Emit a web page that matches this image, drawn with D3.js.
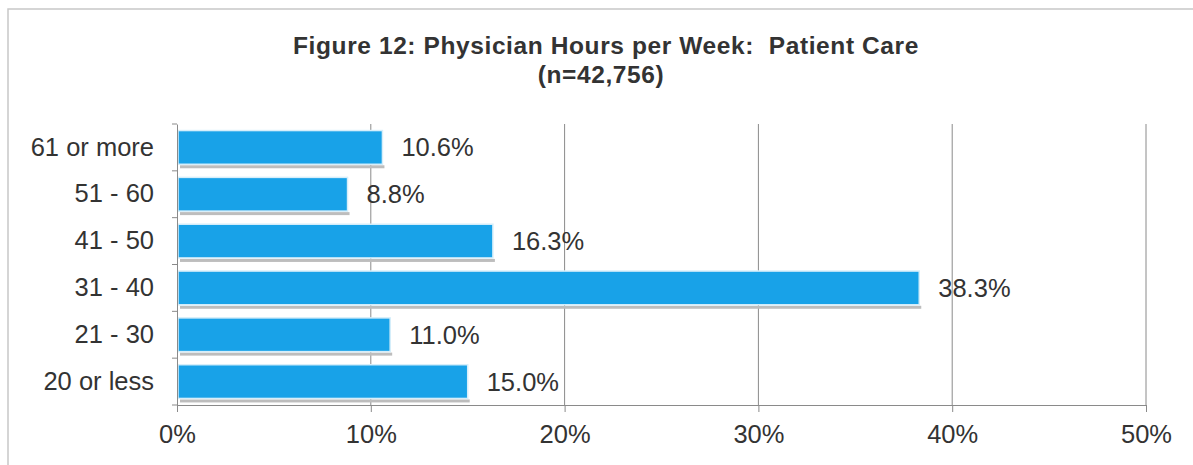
<!DOCTYPE html>
<html>
<head>
<meta charset="utf-8">
<script src="https://cdn.jsdelivr.net/npm/d3@7"></script>
<style>
  body { margin: 0; background: #fff; }
  svg { display: block; font-family: 'Liberation Sans', Arial, sans-serif; }
</style>
</head>
<body>
<div id="chart"></div>
<script>
const categories = ['61 or more', '51 - 60', '41 - 50', '31 - 40', '21 - 30', '20 or less']
const shares = [10.6, 8.8, 16.3, 38.3, 11.0, 15.0]
const xTicks = [0, 10, 20, 30, 40, 50]
const titleLines = ['Figure 12: Physician Hours per Week:  Patient Care', '(n=42,756)']

const width = 1193
const height = 465
const plot = { left: 177, right: 1146, top: 124, bottom: 405 }
const fontSize = 25.5
const textColor = '#333'
const gridColor = '#8a8a8a'

const svg = d3.select('#chart').append('svg').attr('width', width).attr('height', height)

// frame (only top and left edges show in the scan)
svg.append('path')
  .attr('d', `M8,${height} L8,9 L${width},9`)
  .attr('fill', 'none')
  .attr('stroke', '#c8c8c8')
  .attr('stroke-width', 1.5)

svg.append('g')
  .selectAll('text')
  .data(titleLines)
  .join('text')
  .attr('x', (d, i) => (i === 0 ? 606 : 601))
  .attr('y', (d, i) => 54 + i * 29)
  .attr('text-anchor', 'middle')
  .attr('font-size', 24.5)
  .attr('font-weight', 'bold')
  .attr('letter-spacing', 0.6)
  .attr('fill', textColor)
  .style('white-space', 'pre')
  .text(d => d)

const x = d3.scaleLinear().domain([0, 50]).range([plot.left, plot.right])
const y = d3.scaleBand().domain(categories).range([plot.top, plot.bottom]).paddingInner(0.28).paddingOuter(0.14)

// gridlines
svg.append('g')
  .selectAll('line')
  .data(xTicks.slice(1))
  .join('line')
  .attr('x1', d => x(d)).attr('x2', d => x(d))
  .attr('y1', plot.top).attr('y2', plot.bottom)
  .attr('stroke', gridColor)
  .attr('stroke-width', 1)

const data = categories.map((c, i) => ({ category: c, value: shares[i] }))

// shadows under bars
svg.append('g')
  .selectAll('rect')
  .data(data)
  .join('rect')
  .attr('x', x(0) + 3)
  .attr('y', d => y(d.category) + y.bandwidth() + 1)
  .attr('width', d => x(d.value) - x(0) - 1)
  .attr('height', 3)
  .attr('fill', '#bdbdbd')

svg.append('g')
  .selectAll('rect')
  .data(data)
  .join('rect')
  .attr('x', x(0) + 1)
  .attr('y', d => y(d.category))
  .attr('width', d => x(d.value) - x(0) - 1)
  .attr('height', y.bandwidth())
  .attr('fill', '#18a2e8')
  .attr('stroke', '#d6eefa')
  .attr('stroke-width', 1.5)

svg.append('g')
  .selectAll('text')
  .data(data)
  .join('text')
  .attr('x', d => x(d.value) + 19)
  .attr('y', d => y(d.category) + y.bandwidth() / 2 + 9)
  .attr('font-size', fontSize)
  .attr('fill', textColor)
  .text(d => d.value.toFixed(1) + '%')

// axes
const yAxis = svg.append('g')
  .attr('transform', `translate(${plot.left},0)`)
  .call(d3.axisLeft(y).tickSize(0).tickPadding(23))
yAxis.select('.domain').attr('stroke', gridColor)
yAxis.selectAll('text')
  .attr('font-size', fontSize)
  .attr('fill', textColor)
  .attr('font-family', 'Liberation Sans, Arial, sans-serif')

// small ticks on the category axis at band boundaries
const bandEdge = i => plot.top + (i * (plot.bottom - plot.top)) / categories.length
svg.append('g')
  .selectAll('line')
  .data(d3.range(categories.length + 1))
  .join('line')
  .attr('x1', plot.left - 5).attr('x2', plot.left)
  .attr('y1', bandEdge).attr('y2', bandEdge)
  .attr('stroke', gridColor)

const xAxis = svg.append('g')
  .attr('transform', `translate(0,${plot.bottom})`)
  .call(d3.axisBottom(x).tickValues(xTicks).tickFormat(d => d + '%').tickSize(7).tickPadding(13))
xAxis.selectAll('line, .domain').attr('stroke', gridColor)
xAxis.selectAll('text')
  .attr('font-size', fontSize)
  .attr('fill', textColor)
  .attr('font-family', 'Liberation Sans, Arial, sans-serif')
</script>
</body>
</html>
